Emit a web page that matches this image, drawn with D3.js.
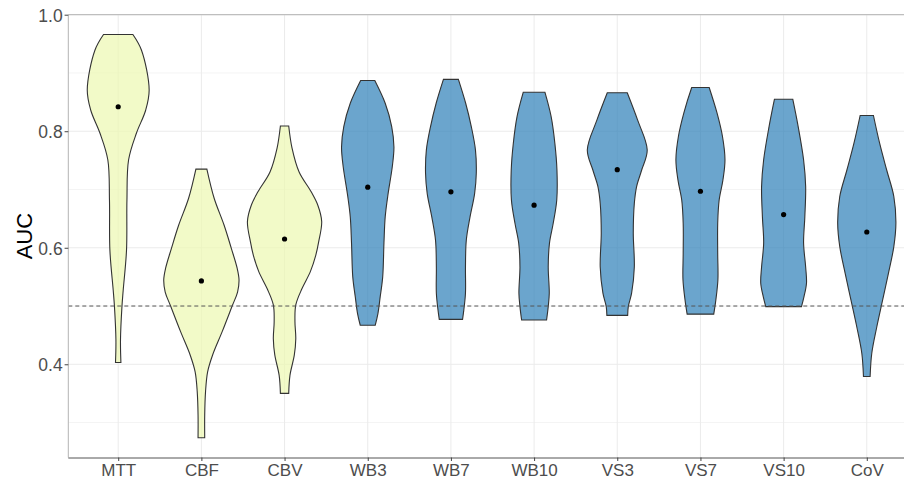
<!DOCTYPE html>
<html><head><meta charset="utf-8">
<script src="https://cdn.jsdelivr.net/npm/d3@7"></script>
<style>body{margin:0;background:#fff}svg{display:block}</style>
</head><body>
<svg id="c" width="904" height="480"></svg>
<script>
const categories = ["MTT","CBF","CBV","WB3","WB7","WB10","VS3","VS7","VS10","CoV"];
const groups = ["A","A","A","B","B","B","B","B","B","B"];
const medians = [0.842,0.543,0.615,0.704,0.696,0.673,0.734,0.697,0.657,0.627];
const yTicks = [0.4,0.6,0.8,1.0];
const yMinor = [0.3,0.5,0.7,0.9];
const refLine = 0.5;
// violin outlines: [AUC value, relative width] from top to bottom
const violinMTT = [[0.966,0.353],[0.939,0.56],[0.871,0.744],[0.836,0.66],[0.797,0.44],[0.751,0.25],[0.682,0.21],[0.596,0.20],[0.527,0.12],[0.499,0.09],[0.442,0.055],[0.403,0.065]];
const violinCBF = [[0.735,0.132],[0.685,0.307],[0.639,0.545],[0.599,0.72],[0.565,0.86],[0.545,0.905],[0.524,0.87],[0.500,0.74],[0.456,0.50],[0.416,0.27],[0.387,0.15],[0.353,0.10],[0.313,0.08],[0.274,0.08]];
const violinCBV = [[0.809,0.10],[0.771,0.18],[0.730,0.35],[0.696,0.64],[0.673,0.80],[0.645,0.893],[0.610,0.82],[0.587,0.75],[0.559,0.62],[0.530,0.42],[0.502,0.27],[0.473,0.25],[0.444,0.27],[0.416,0.235],[0.381,0.13],[0.350,0.10]];
const violinWB3 = [[0.887,0.17],[0.848,0.42],[0.808,0.576],[0.773,0.63],[0.739,0.59],[0.693,0.49],[0.653,0.42],[0.608,0.39],[0.550,0.36],[0.516,0.30],[0.487,0.245],[0.467,0.18]];
const violinWB7 = [[0.889,0.18],[0.848,0.355],[0.808,0.49],[0.768,0.59],[0.728,0.61],[0.693,0.57],[0.653,0.46],[0.613,0.37],[0.567,0.35],[0.522,0.35],[0.493,0.31],[0.477,0.28]];
const violinWB10 = [[0.867,0.26],[0.825,0.41],[0.779,0.50],[0.733,0.55],[0.682,0.545],[0.642,0.46],[0.608,0.37],[0.567,0.34],[0.522,0.365],[0.499,0.34],[0.476,0.30]];
const violinVS3 = [[0.866,0.24],[0.819,0.49],[0.768,0.72],[0.733,0.585],[0.705,0.465],[0.676,0.41],[0.625,0.385],[0.567,0.41],[0.522,0.345],[0.499,0.265],[0.484,0.25]];
const violinVS7 = [[0.875,0.21],[0.831,0.40],[0.791,0.53],[0.751,0.59],[0.716,0.54],[0.682,0.45],[0.642,0.415],[0.590,0.415],[0.545,0.42],[0.510,0.37],[0.486,0.32]];
const violinVS10 = [[0.855,0.22],[0.808,0.35],[0.751,0.48],[0.705,0.53],[0.653,0.51],[0.608,0.48],[0.567,0.53],[0.539,0.55],[0.516,0.49],[0.499,0.43]];
const violinCoV = [[0.827,0.16],[0.779,0.31],[0.733,0.48],[0.688,0.65],[0.642,0.70],[0.602,0.65],[0.556,0.52],[0.510,0.38],[0.464,0.24],[0.419,0.12],[0.379,0.08]];
const violins = [violinMTT,violinCBF,violinCBV,violinWB3,violinWB7,violinWB10,violinVS3,violinVS7,violinVS10,violinCoV];
const colors = {A:"#edf8b1", B:"#2c7fb8"};

const FONT = "Liberation Sans, Arial, sans-serif";
const svg = d3.select("#c");
const L = 68.3, R = 916.7, T = 14.7, B = 457.5;
const x = d3.scalePoint().domain(categories).range([L, R]).padding(0.6);
const y = d3.scaleLinear().domain([0.24, 1.0]).range([B, T]);
const w = d3.scaleLinear().domain([0, 1]).range([0, x.step() / 2]);

const g = svg.append("g");
// grid
g.selectAll(".ymin").data(yMinor).join("line")
  .attr("x1", L).attr("x2", R).attr("y1", d => y(d)).attr("y2", d => y(d))
  .attr("stroke", "#f4f4f4").attr("stroke-width", 1);
g.selectAll(".ymaj").data(yTicks).join("line")
  .attr("x1", L).attr("x2", R).attr("y1", d => y(d)).attr("y2", d => y(d))
  .attr("stroke", "#ebebeb").attr("stroke-width", 1);
g.selectAll(".xg").data(categories).join("line")
  .attr("x1", d => x(d)).attr("x2", d => x(d)).attr("y1", T).attr("y2", B)
  .attr("stroke", "#ebebeb").attr("stroke-width", 1);

// violins
violins.forEach((v, i) => {
  const cx = x(categories[i]);
  const a = d3.area().y(d => y(d[0])).x0(d => cx - w(d[1])).x1(d => cx + w(d[1])).curve(d3.curveCatmullRom);
  g.append("path").attr("d", a(v))
    .attr("fill", colors[groups[i]]).attr("fill-opacity", 0.7)
    .attr("stroke", "#333").attr("stroke-width", 1.1);
});

// reference line
g.append("line").attr("x1", L).attr("x2", R).attr("y1", y(refLine)).attr("y2", y(refLine))
  .attr("stroke", "#555").attr("stroke-width", 1).attr("stroke-dasharray", "4,3");

// medians
g.selectAll(".med").data(medians).join("circle")
  .attr("cx", (d, i) => x(categories[i])).attr("cy", d => y(d)).attr("r", 2.6).attr("fill", "#000");

// borders
g.append("line").attr("x1", L).attr("x2", R).attr("y1", T).attr("y2", T).attr("stroke", "#b3b3b3");
g.append("line").attr("x1", L).attr("x2", L).attr("y1", T).attr("y2", B).attr("stroke", "#b3b3b3");

// axes
const yAxis = d3.axisLeft(y).tickValues(yTicks).tickFormat(d3.format(".1f")).tickSize(3.7).tickPadding(2);
const ya = svg.append("g").attr("transform", `translate(${L},0)`).call(yAxis);
ya.select(".domain").remove();
ya.selectAll("line").attr("stroke", "#444");
ya.selectAll("text").attr("fill", "#4d4d4d").style("font-family", FONT).style("font-size", "17.5px").attr("dy", "0.38em");

const xAxis = d3.axisBottom(x).tickSize(3.5).tickPadding(2);
const xa = svg.append("g").attr("transform", `translate(0,${B})`).call(xAxis);
xa.select(".domain").attr("stroke", "#555").attr("d", `M${L},0.5H${R}`);
xa.selectAll("line").attr("stroke", "#444");
xa.selectAll("text").attr("fill", "#4d4d4d").style("font-family", FONT).style("font-size", "17px").attr("dy", "13px");

svg.append("text").attr("transform", `translate(32,${(T + B) / 2}) rotate(-90)`)
  .attr("text-anchor", "middle").style("font-family", FONT)
  .style("font-size", "22px").attr("fill", "#000").text("AUC");
</script>
</body></html>
